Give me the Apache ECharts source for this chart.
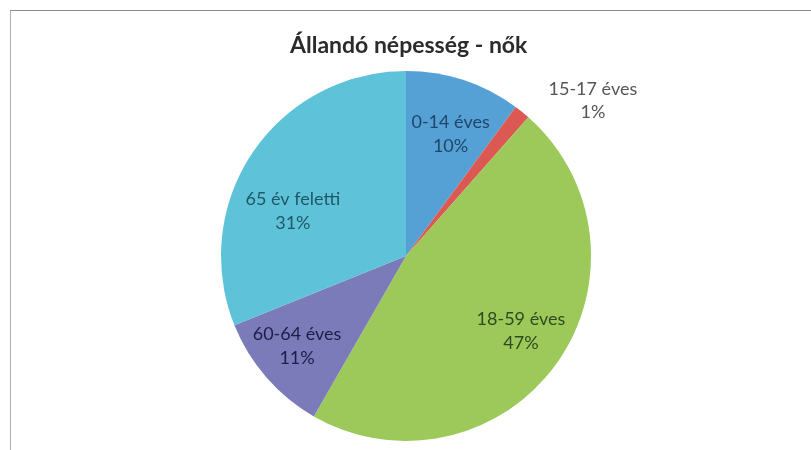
<!DOCTYPE html>
<html>
<head>
<meta charset="utf-8">
<script src="https://cdn.jsdelivr.net/npm/echarts@6/dist/echarts.min.js"></script>
<style>
html,body{margin:0;padding:0;background:#fff;}
#frame{position:absolute;left:10px;top:10px;width:900px;height:500px;border-top:1px solid #8a8a8a;border-left:1px solid #b0b0b0;}
#chart{position:absolute;left:0;top:0;width:811px;height:450px;}
</style>
</head>
<body>
<div id="frame"></div>
<div id="chart"></div>
<script>
const titleText = 'Állandó népesség - nők';
const categories = ['0-14 éves', '15-17 éves', '18-59 éves', '60-64 éves', '65 év feletti'];
const values = [10.1, 1.4, 46.8, 10.6, 31.1];
const sliceColors = ['#55a1d5', '#dc5853', '#9dc95a', '#7b7bb9', '#5ec2d8'];
const labelColors = ['#1f4668', '#555555', '#2f4a22', '#1d1d48', '#1f5866'];
const labelShift = [[2, 8], [10, -7], [4, -4], [-6, 1], [0, 32]];

const chart = echarts.init(document.getElementById('chart'), null, {renderer: 'canvas'});

const baseData = categories.map((c, i) => ({
  name: c, value: values[i], itemStyle: {color: sliceColors[i]}
}));

const labelData = categories.map((c, i) => {
  const d = {name: c, value: values[i], label: {color: labelColors[i]}};
  if (i === 1) {
    d.label = {
      position: 'outside',
      color: labelColors[i],
      formatter: '{a|{b}}\n{a|{d}%}',
      rich: {a: {width: 104, align: 'center', fontSize: 18, lineHeight: 23, fontFamily: 'Lato', color: labelColors[i]}}
    };
    d.labelLine = {show: false, length: 6, length2: 0};
  }
  return d;
});

chart.setOption({
  animation: false,
  backgroundColor: 'transparent',
  title: {
    text: titleText,
    left: 285,
    top: 29,
    textStyle: {fontFamily: 'Lato', fontWeight: 'bold', fontSize: 23, color: '#2b2b2b'}
  },
  series: [
    {
      type: 'pie',
      center: [406, 256],
      radius: [0, 185],
      startAngle: 90,
      clockwise: true,
      percentPrecision: 0,
      label: {show: false},
      labelLine: {show: false},
      itemStyle: {borderWidth: 0},
      emphasis: {disabled: true},
      data: baseData
    },
    {
      type: 'pie',
      center: [406, 256],
      radius: [82, 185],
      startAngle: 90,
      clockwise: true,
      percentPrecision: 0,
      silent: true,
      avoidLabelOverlap: false,
      z: 3,
      itemStyle: {color: 'rgba(0,0,0,0)', borderWidth: 0},
      emphasis: {disabled: true},
      label: {
        show: true,
        position: 'inside',
        formatter: '{b}\n{d}%',
        fontFamily: 'Lato',
        fontSize: 18,
        lineHeight: 24,
        align: 'center'
      },
      labelLine: {show: false},
      labelLayout: function (p) {
        const s = labelShift[p.dataIndex];
        return {dx: s[0], dy: s[1]};
      },
      data: labelData
    }
  ]
});
</script>
</body>
</html>
